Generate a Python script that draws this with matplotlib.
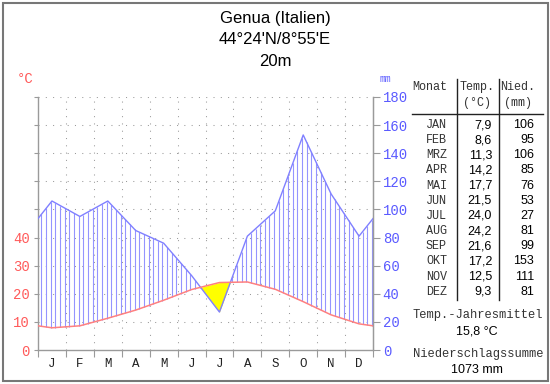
import numpy as np
import matplotlib.pyplot as plt
from matplotlib.lines import Line2D
from matplotlib.patches import Rectangle

# climate data for Genua
months = ["J", "F", "M", "A", "M", "J", "J", "A", "S", "O", "N", "D"]
month_abbr = ["JAN", "FEB", "MRZ", "APR", "MAI", "JUN", "JUL", "AUG", "SEP", "OKT", "NOV", "DEZ"]
temp = [7.9, 8.6, 11.3, 14.2, 17.7, 21.5, 24.0, 24.2, 21.6, 17.2, 12.5, 9.3]
precip = [106, 95, 106, 85, 76, 53, 27, 81, 99, 153, 111, 81]

W, H = 550, 384
MONO = "Liberation Mono"
SANS = "Liberation Sans"
RED = "#ff5a5a"
BLUE = "#5a5aff"
GRID = "#9a9a9a"


def fx(px):
    return px / W


def fy(py):
    return 1 - py / H


fig = plt.figure(figsize=(W / 100, H / 100), dpi=100)
fig.patch.set_facecolor("white")

ax = fig.add_axes([fx(38), fy(350), (373 - 38) / W, (350 - 97) / H])

# curves: month centres plus wrap-around values at both edges
t_edge = (temp[0] + temp[-1]) / 2
p_edge = (precip[0] + precip[-1]) / 2
x_ext = np.array([0] + [i + 0.5 for i in range(12)] + [12])
t_ext = np.array([t_edge] + temp + [t_edge])
p_ext = np.array([p_edge] + precip + [p_edge]) / 2  # 20 mm = 10 degC

xs = np.linspace(0, 12, 2401)
ts = np.interp(xs, x_ext, t_ext)
ps = np.interp(xs, x_ext, p_ext)

# grid
for y in range(10, 100, 10):
    ax.axhline(y, color=GRID, lw=0.75, ls=(0, (1, 6)), zorder=0)
for x in range(1, 12):
    ax.axvline(x, color=GRID, lw=0.75, ls=(0, (1, 6)), zorder=0)

# arid period
ax.fill_between(xs, ts, ps, where=ts > ps, interpolate=True, color="#ffff00", lw=0, zorder=1)

# humid period hatching
hx = (np.arange(72) + 0.75) / 6
ht = np.interp(hx, x_ext, t_ext)
hp = np.interp(hx, x_ext, p_ext)
wet = hp > ht
ax.vlines(hx[wet], ht[wet], hp[wet], color="#9494ff", lw=0.8, zorder=2)

ax.plot(x_ext, p_ext, color="#8080ff", lw=1.0, zorder=3)
ax.plot(x_ext, t_ext, color="#ff8080", lw=1.1, zorder=3)

ax.set_xlim(0, 12)
ax.set_ylim(0, 90)
ax.spines["top"].set_visible(False)
for s in ["left", "right", "bottom"]:
    ax.spines[s].set_color(GRID)
    ax.spines[s].set_linewidth(1)

ax.set_yticks(range(0, 100, 10))
ax.set_yticklabels(["0", "10", "20", "30", "40"] + [""] * 5)
ax.tick_params(axis="y", length=3, color=GRID, labelcolor=RED, labelsize=10, pad=3)
for lab in ax.get_yticklabels():
    lab.set_family(MONO)

ax.set_xticks(range(13))
ax.set_xticklabels([""] * 13)
ax.set_xticks([i + 0.5 for i in range(12)], minor=True)
ax.set_xticklabels(months, minor=True, family=MONO, fontsize=9, color="#222222")
ax.tick_params(axis="x", which="major", length=5, color=GRID)
ax.tick_params(axis="x", which="minor", length=0, pad=6)

ax2 = ax.twinx()
ax2.set_ylim(0, 180)
ax2.set_yticks(range(0, 200, 20))
ax2.tick_params(axis="y", length=5, color=GRID, labelcolor=BLUE, labelsize=10, pad=2)
for lab in ax2.get_yticklabels():
    lab.set_family(MONO)
for s in ["left", "top", "bottom"]:
    ax2.spines[s].set_visible(False)
ax2.spines["right"].set_color(GRID)

fig.text(fx(25), fy(79), "°C", color=RED, family=MONO, fontsize=10, ha="center", va="center")
fig.text(fx(385), fy(79), "mm", color=BLUE, family=MONO, fontsize=7, ha="center", va="center")

# title
fig.text(fx(275), fy(18), "Genua (Italien)", ha="center", va="center", family=SANS, fontsize=12)
fig.text(fx(275), fy(40), "44°24'N/8°55'E", ha="center", va="center", family=SANS, fontsize=12)
fig.text(fx(275), fy(62), "20m", ha="center", va="center", family=SANS, fontsize=12)

# table
HEAD = "#333333"
fig.text(fx(430), fy(87), "Monat", ha="center", va="center", family=MONO, fontsize=8.5, color=HEAD)
fig.text(fx(477), fy(87), "Temp.", ha="center", va="center", family=MONO, fontsize=8.5, color=HEAD)
fig.text(fx(477), fy(103), "(°C)", ha="center", va="center", family=MONO, fontsize=8.5, color=HEAD)
fig.text(fx(518), fy(87), "Nied.", ha="center", va="center", family=MONO, fontsize=8.5, color=HEAD)
fig.text(fx(518), fy(103), "(mm)", ha="center", va="center", family=MONO, fontsize=8.5, color=HEAD)

fig.add_artist(Line2D([fx(412), fx(543)], [fy(114), fy(114)], color="#222222", lw=1))
fig.add_artist(Line2D([fx(457), fx(457)], [fy(79), fy(300)], color="#222222", lw=1))
fig.add_artist(Line2D([fx(499), fx(499)], [fy(79), fy(300)], color="#222222", lw=1))

for i in range(12):
    y = fy(125 + i * 15.15)
    fig.text(fx(447), y, month_abbr[i], ha="right", va="center", family=MONO, fontsize=8.5, color=HEAD)
    fig.text(fx(492), y, f"{temp[i]:.1f}".replace(".", ","), ha="right", va="center", family=SANS, fontsize=9)
    fig.text(fx(534), y, str(precip[i]), ha="right", va="center", family=SANS, fontsize=9)

t_mean = np.mean(temp)
p_sum = int(np.sum(precip))
fig.text(fx(478), fy(315), "Temp.-Jahresmittel", ha="center", va="center", family=MONO, fontsize=8.7, color=HEAD)
fig.text(fx(477), fy(332), f"{t_mean:.1f} °C".replace(".", ","), ha="center", va="center", family=SANS, fontsize=9)
fig.text(fx(478), fy(354), "Niederschlagssumme", ha="center", va="center", family=MONO, fontsize=8.7, color=HEAD)
fig.text(fx(477), fy(370), f"{p_sum} mm", ha="center", va="center", family=SANS, fontsize=9)

# frame
fig.add_artist(Rectangle((fx(2.5), fy(380.5)), (545 / W), (378 / H), transform=fig.transFigure,
                         fill=False, edgecolor="#777777", lw=1.5))

fig.savefig("out.png", dpi=100)
